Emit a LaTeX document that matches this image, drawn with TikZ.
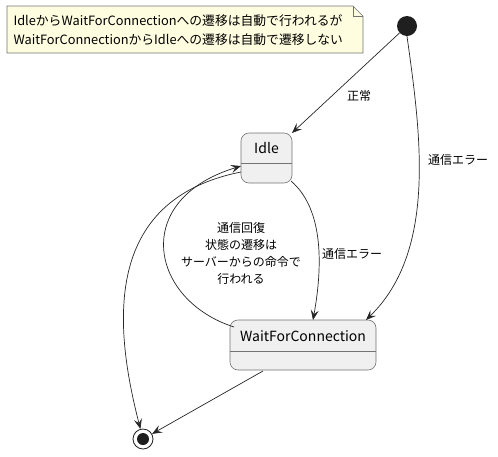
\documentclass[tikz,border=0pt]{standalone}
\usepackage{fontspec}
\setmainfont{Noto Sans CJK JP}
\usetikzlibrary{arrows.meta,calc}
\tikzset{
  every node/.style={font=\fontsize{12}{15}\selectfont},
  statebox/.style={draw=black!55, fill=black!6, rounded corners=8pt, line width=0.6pt},
  trans/.style={draw=black!85, line width=0.7pt, -{Stealth[length=10pt,width=8pt,inset=4pt]}},
  lbl/.style={inner sep=1pt, align=center}
}
\begin{document}
\begin{tikzpicture}[x=1pt,y=-1pt]
\useasboundingbox (0,0) rectangle (498,456);
% note
\filldraw[draw=black!55, fill=yellow!12, line width=0.6pt]
  (7,6) -- (353,6) -- (363,16) -- (363,53) -- (7,53) -- cycle;
\draw[black!55, line width=0.6pt] (353,6) -- (353,16) -- (363,16);
\node[anchor=west, align=left, font=\fontsize{12.8}{19}\selectfont] (note) at (10,30)
  {IdleからWaitForConnectionへの遷移は自動で行われるが\\WaitForConnectionからIdleへの遷移は自動で遷移しない};
% start
\node[circle, fill=black!88, minimum size=20pt, inner sep=0pt] (start) at (407,26) {};
% end
\node[circle, draw=black!88, line width=0.8pt, minimum size=20pt, inner sep=0pt] (end) at (143,439) {};
\node[circle, fill=black!88, minimum size=12pt, inner sep=0pt] (endin) at (143,439) {};
% Idle
\draw[statebox] (241,133) rectangle (292,183);
\draw[black!55, line width=0.6pt] (241,163) -- (292,163);
\node[font=\fontsize{14}{16}\selectfont] (idle) at (266.5,148) {Idle};
\coordinate (idleNE) at (292,133);
\coordinate (idleSE) at (291,181);
\coordinate (idleW) at (241,166);
\coordinate (idleW2) at (241,172);
% WFC
\draw[statebox] (230,320) rectangle (376,370);
\draw[black!55, line width=0.6pt] (230,351) -- (376,351);
\node[font=\fontsize{14}{16}\selectfont] (wfc) at (303,336) {WaitForConnection};
\coordinate (wfcN1) at (313,320);
\coordinate (wfcN2) at (366,320);
\coordinate (wfcNW) at (234,327);
\coordinate (wfcS) at (263,371);
% edges
\draw[trans] (start) -- (idleNE);
\node[lbl] (l1) at (359,96) {正常};
\draw[trans] (start.south) .. controls (420,130) and (438,250) .. (wfcN2);
\node[lbl, anchor=west] (l2) at (427,160) {通信エラー};
\draw[trans] (idleSE) .. controls (325,210) and (322,270) .. (wfcN1);
\node[lbl, anchor=west] (l3) at (321,254) {通信エラー};
\draw[trans] (wfcNW) .. controls (150,300) and (130,200) .. (idleW);
\node[lbl, font=\fontsize{12}{17}\selectfont] (l4) at (241,253) {通信回復\\状態の遷移は\\サーバーからの命令で\\行われる};
\draw[trans] (idleW2) .. controls (100,200) and (115,330) .. (end);
\draw[trans] (wfcS) -- (end);
\end{tikzpicture}
\end{document}
